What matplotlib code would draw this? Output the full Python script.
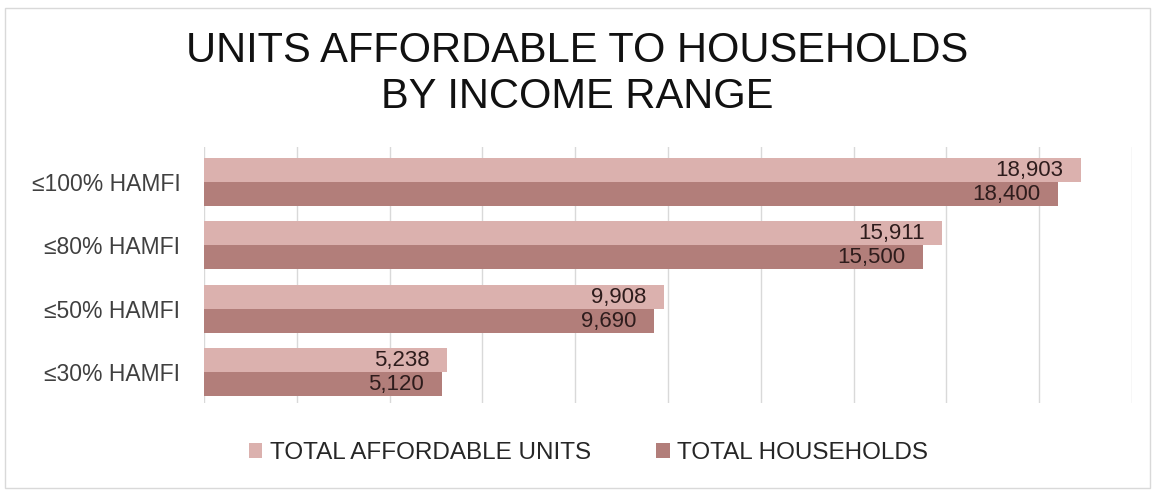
import matplotlib
matplotlib.use("Agg")
import matplotlib.pyplot as plt
from matplotlib.patches import Rectangle
import numpy as np

plt.rcParams['font.family'] = ['Liberation Sans', 'DejaVu Sans']

categories = ["≤30% HAMFI", "≤50% HAMFI", "≤80% HAMFI", "≤100% HAMFI"]
affordable_units = [5238, 9908, 15911, 18903]
households = [5120, 9690, 15500, 18400]
series_names = ["TOTAL AFFORDABLE UNITS", "TOTAL HOUSEHOLDS"]
colors = ["#dbb1ae", "#b27e7a"]

fig = plt.figure(figsize=(11.54, 4.91), dpi=100)
fig.patches.append(Rectangle((5 / 1154, 3 / 491), 1145 / 1154, 480 / 491,
                             transform=fig.transFigure, fill=False,
                             edgecolor="#d9d9d9", linewidth=1.0))

ax = fig.add_axes([204 / 1154, 1 - 403 / 491, (1132 - 204) / 1154, (403 - 147) / 491])

y = np.arange(len(categories))
h = 0.38
b1 = ax.barh(y + h / 2, affordable_units, height=h, color=colors[0], label=series_names[0], zorder=2)
b2 = ax.barh(y - h / 2, households, height=h, color=colors[1], label=series_names[1], zorder=2)

for bars, vals in ((b1, affordable_units), (b2, households)):
    for bar, v in zip(bars, vals):
        ax.text(bar.get_width() - 380, bar.get_y() + bar.get_height() / 2 - 0.01,
                f"{v:,}", ha="right", va="center", fontsize=16, color="#2e1c1c", zorder=3)

ax.set_xlim(0, 20000)
ax.set_ylim(-0.49, 3.55)
ax.set_xticks(np.arange(0, 20001, 2000))
ax.set_xticklabels([])
ax.tick_params(axis="x", length=0)
ax.tick_params(axis="y", length=0, pad=17, labelsize=16.5, labelcolor="#404040")
ax.set_yticks(y)
ax.set_yticklabels(categories)
ax.grid(axis="x", color="#d9d9d9", linewidth=1.0, zorder=0)
for s in ax.spines.values():
    s.set_visible(False)

fig.text(0.5, 1 - 74 / 491, "UNITS AFFORDABLE TO HOUSEHOLDS\nBY INCOME RANGE",
         ha="center", va="center", fontsize=30, color="#111111", linespacing=1.17)

fig.legend(handles=[b1, b2], labels=series_names, loc="center",
           bbox_to_anchor=(0.51, 1 - 453 / 491), ncol=2, frameon=False,
           fontsize=17.5, handlelength=0.55, handleheight=0.55, handletextpad=0.3,
           columnspacing=2.7, labelcolor="#262626")

fig.savefig("out.png", dpi=100)
